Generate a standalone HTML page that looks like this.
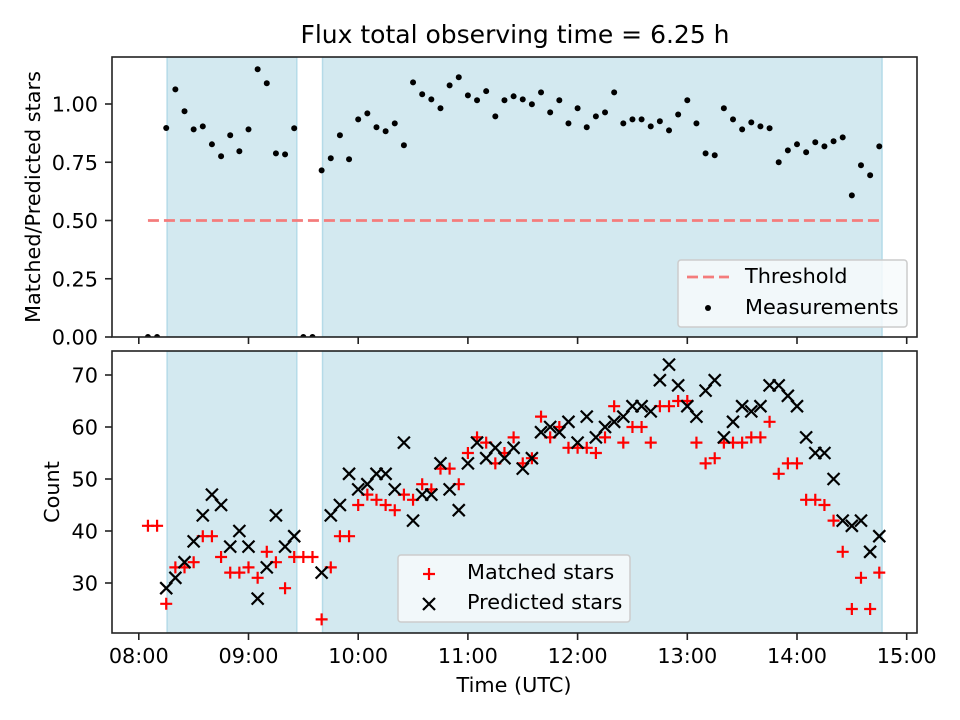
<!DOCTYPE html>
<html><head><meta charset="utf-8"><style>
body{margin:0;background:#fff}
svg{display:block;font-family:"DejaVu Sans","Liberation Sans",sans-serif}
</style></head><body>
<svg id="c" width="960" height="720" viewBox="0 0 960 720" xmlns="http://www.w3.org/2000/svg"></svg>
<script>
// data (minutes after 08:00 UTC)
const times = [5,10,15,20,25,30,35,40,45,50,
55,60,65,70,75,80,85,90,95,100,
105,110,115,120,125,130,135,140,145,150,
155,160,165,170,175,180,185,190,195,200,
205,210,215,220,225,230,235,240,245,250,
255,260,265,270,275,280,285,290,295,300,
305,310,315,320,325,330,335,340,345,350,
355,360,365,370,375,380,385,390,395,400,405];
const ratio = [0,0,0.897,1.063,0.969,0.891,0.904,0.827,0.776,0.866,
0.797,0.891,1.149,1.089,0.788,0.784,0.896,0,0,0.715,
0.767,0.866,0.763,0.934,0.960,0.900,0.883,0.917,0.823,1.093,
1.042,1.020,0.982,1.080,1.115,1.037,1.016,1.055,0.947,1.016,
1.033,1.020,0.999,1.050,0.964,1.016,0.917,0.982,0.900,0.947,
0.964,1.050,0.917,0.934,0.934,0.904,0.926,0.887,0.955,1.016,
0.917,0.788,0.780,0.982,0.934,0.891,0.921,0.904,0.896,0.750,
0.801,0.827,0.793,0.836,0.818,0.840,0.857,0.608,0.737,0.694,0.818];
const predicted = [0,0,29,31,34,38,43,47,45,37,
40,37,27,33,43,37,39,0,0,32,
43,45,51,48,49,51,51,48,57,42,
47,47,53,48,44,53,57,54,56,54,
56,52,54,59,60,59,61,57,62,58,
60,61,62,64,64,63,69,72,68,64,
62,67,69,58,61,64,63,64,68,68,
66,64,58,55,55,50,42,41,42,36,39];
const matched = [41,41,26,33,33,34,39,39,35,32,
32,33,31,36,34,29,35,35,35,23,
33,39,39,45,47,46,45,44,47,46,
49,48,52,52,49,55,58,57,53,55,
58,53,54,62,58,60,56,56,56,55,
58,64,57,60,60,57,64,64,65,65,
57,53,54,57,57,57,58,58,61,51,
53,53,46,46,45,42,36,25,31,25,32];
const shadeStart = [15.5, 100.5];
const shadeEnd = [86.4, 406.5];
const threshold = 0.5;
const xTickLabels = ["08:00","09:00","10:00","11:00","12:00","13:00","14:00","15:00"];
const xTickVals = [0,60,120,180,240,300,360,420];
const topTicks = [0,0.25,0.5,0.75,1.0];
const botTicks = [30,40,50,60,70];

const NS="http://www.w3.org/2000/svg";
const svg=document.getElementById('c');
function el(tag,attrs,parent){const e=document.createElementNS(NS,tag);for(const k in attrs)e.setAttribute(k,attrs[k]);(parent||svg).appendChild(e);return e;}
const L=112,R=917;
const X=t=>138.8+t*109.7/60;
const Ytop=v=>337-v*233;
const Ybot=v=>375+(70-v)*5.2;
const FS=20.8;
const panels=[{t:57,b:337,name:'ratio-panel'},{t:351,b:633,name:'count-panel'}];

const defs=el('defs',{});
panels.forEach((p,i)=>{const cp=el('clipPath',{id:'clip'+i},defs);el('rect',{x:L,y:p.t,width:R-L,height:p.b-p.t},cp);});

panels.forEach((p,pi)=>{
  const g=el('g',{'clip-path':'url(#clip'+pi+')'});
  
  
  for(let k=0;k<shadeStart.length;k++){
    const r=el('rect',{x:X(shadeStart[k]),y:p.t,width:X(shadeEnd[k])-X(shadeStart[k]),height:p.b-p.t,fill:'#d3e9f0',stroke:'#b5dbe8','stroke-width':1.5},g);
    
    
  }
});

const g1=el('g',{'clip-path':'url(#clip0)'});
const th=el('line',{x1:X(times[0]),x2:X(times[times.length-1]),y1:Ytop(threshold),y2:Ytop(threshold),stroke:'#f47c7c','stroke-width':2.8,'stroke-dasharray':'11,5'},g1);


times.forEach((t,i)=>{
  const c=el('circle',{cx:X(t),cy:Ytop(ratio[i]),r:3,fill:'#000'},g1);
  
  
});

const g2=el('g',{'clip-path':'url(#clip1)'});
times.forEach((t,i)=>{
  const x=X(t),y=Ybot(matched[i]);
  const m=el('path',{d:`M${x-6},${y}H${x+6}M${x},${y-6}V${y+6}`,stroke:'#ff0000','stroke-width':2.2,fill:'none'},g2);
  
  
});
times.forEach((t,i)=>{
  const x=X(t),y=Ybot(predicted[i]),s=6;
  const m=el('path',{d:`M${x-s},${y-s}L${x+s},${y+s}M${x-s},${y+s}L${x+s},${y-s}`,stroke:'#000','stroke-width':2.2,fill:'none'},g2);
  
  
});

panels.forEach((p,pi)=>{
  const f=el('rect',{x:L,y:p.t,width:R-L,height:p.b-p.t,fill:'none',stroke:'#222','stroke-width':1.6});
  
  
  xTickVals.forEach((v,k)=>{
    const x=X(v); if(x<L||x>R)return;
    el('line',{x1:x,x2:x,y1:p.b,y2:p.b+7,stroke:'#222','stroke-width':1.6});
    if(pi===1){
      const tx=el('text',{x:x,y:663,'text-anchor':'middle','font-size':FS,fill:'#000'});
      tx.textContent=xTickLabels[k];
      
      
    }
  });
});
topTicks.forEach(v=>{
  const y=Ytop(v);
  el('line',{x1:L-7,x2:L,y1:y,y2:y,stroke:'#222','stroke-width':1.6});
  const t=el('text',{x:98,y:y+7.5,'text-anchor':'end','font-size':FS});
  t.textContent=v.toFixed(2);
  
  
});
botTicks.forEach(v=>{
  const y=Ybot(v);
  el('line',{x1:L-7,x2:L,y1:y,y2:y,stroke:'#222','stroke-width':1.6});
  const t=el('text',{x:98,y:y+7.5,'text-anchor':'end','font-size':FS});
  t.textContent=v;
  
  
});
</script>
<svg width="960" height="720" style="position:absolute;left:0;top:0" xmlns="http://www.w3.org/2000/svg" font-family="DejaVu Sans, Liberation Sans, sans-serif">
  <text x="515" y="43" text-anchor="middle" font-size="25">Flux total observing time = 6.25 h</text>
  <text transform="translate(40,197) rotate(-90)" text-anchor="middle" font-size="20.8">Matched/Predicted stars</text>
  <text transform="translate(59,492) rotate(-90)" text-anchor="middle" font-size="20.8">Count</text>
  <text x="514" y="692" text-anchor="middle" font-size="20.8">Time (UTC)</text>
  <g>
    <rect x="678" y="260" width="229" height="67" rx="3" fill="#f7fafc" fill-opacity="0.85" stroke="#ccc" stroke-width="1.5"/>
    <line x1="687" x2="729" y1="277" y2="277" stroke="#f47c7c" stroke-width="2.8" stroke-dasharray="11,5"/>
    <text x="745" y="283" font-size="20.8">Threshold</text>
    <circle cx="708" cy="308" r="3" fill="#000"/>
    <text x="745" y="314" font-size="20.8">Measurements</text>
  </g>
  <g>
    <rect x="398" y="555" width="232" height="67" rx="3" fill="#f7fafc" fill-opacity="0.85" stroke="#ccc" stroke-width="1.5"/>
    <path d="M423,574H435M429,568V580" stroke="#f00" stroke-width="2.2"/>
    <text x="467" y="579" font-size="20.8">Matched stars</text>
    <path d="M423,598L435,610M423,610L435,598" stroke="#000" stroke-width="2.2"/>
    <text x="467" y="609" font-size="20.8">Predicted stars</text>
  </g>
</svg>
</body></html>
